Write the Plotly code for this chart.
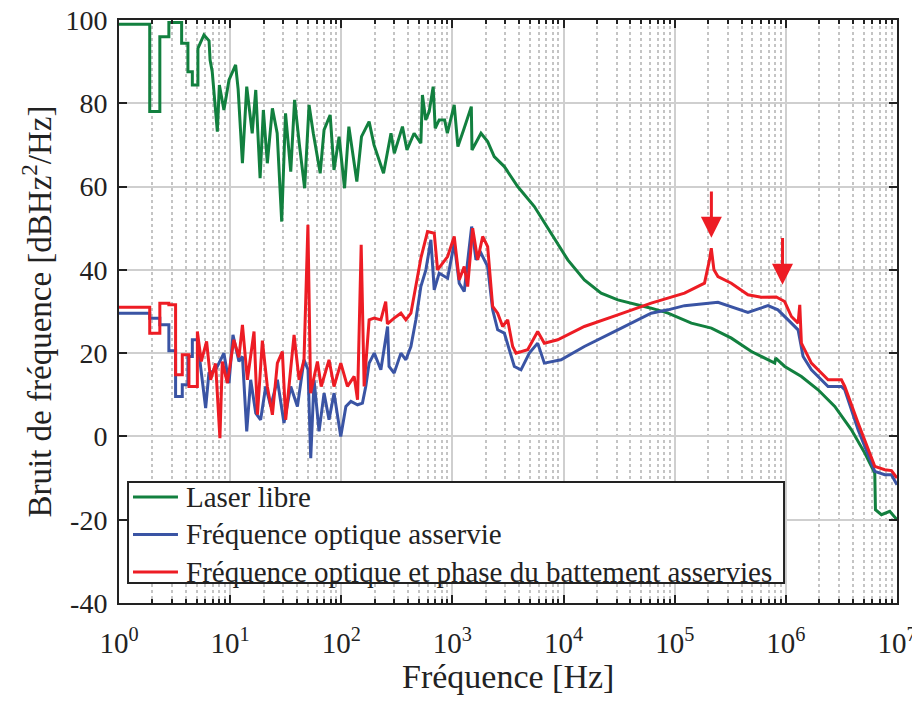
import plotly.graph_objects as go

# --- données (fréquence en Hz, bruit en dBHz²/Hz) ---
freq_libre = [1, 1.89, 1.89, 2.33, 2.33, 2.81, 2.81, 3.66, 3.66, 4.17, 4.17, 4.57, 4.57, 5.13, 5.13,
              5.81, 6.46, 6.6, 6.9, 7.67, 8.0, 8.79, 9.77, 11.2, 11.8, 12.9, 14.1, 15.8, 17.0, 18.6,
              19.9, 21.6, 24.0, 26.5, 29.1, 31.5, 35.1, 38.0, 42, 46.8, 51.3, 56, 64.6, 70, 79.4,
              86, 95.5, 107, 117, 138, 152, 178, 197, 240, 280, 300, 355, 390, 452, 520, 537, 575,
              618, 671, 700, 760, 851, 900, 1038, 1120, 1260, 1479, 1500, 1807, 2075, 2377, 2931,
              3864, 5458, 7709, 10914, 15382, 21777, 30761, 43451, 61376, 87096, 122462, 141254,
              213796, 323594, 489779, 794328, 810000, 977237, 1380384, 1949845, 2754229, 3890451,
              5128614, 6309573, 6400000, 7244360, 8609938, 1e7]
bruit_libre = [99, 99, 78, 78, 96, 96, 99.4, 99.4, 94.4, 94.4, 87.6, 87.6, 84.4, 84.4, 93.2,
               96.4, 95, 90.4, 87.6, 73.2, 84.4, 78.4, 85.6, 89.2, 83.4, 65.6, 84, 72.8, 83.2, 62,
               78.4, 65.6, 78.8, 72.8, 51.6, 77.6, 63.6, 80.8, 70, 59.6, 79.6, 72.8, 63.2, 73.6, 77.2,
               64, 72, 59.6, 74.4, 61.2, 72, 75.6, 70, 63.2, 72.8, 68, 74.4, 68.8, 72.8, 70.4, 82, 76,
               78, 84, 74, 76, 76, 72.8, 79.6, 69.6, 73.6, 79.2, 68.8, 72.8, 70.8, 67.2, 64.8,
               60, 55.2, 48.8, 42.4, 37.6, 34.4, 32.8, 31.8, 30.8, 29.6, 28, 27.2,
               26, 23.6, 20.4, 17.6, 18.8, 16.8, 14.4, 11.2, 7.2, 1.6,
               -4, -8.8, -17.6, -18.8, -18, -20]

freq_asservie = [1, 1.89, 1.89, 2.33, 2.33, 2.81, 2.81, 3.23, 3.23, 3.71, 3.71, 4.17, 4.17, 4.57,
                 4.57, 5.07, 5.42, 6.02, 6.44, 7.4, 8.79, 9.77, 10.6, 12, 12.9, 14.1, 15.3, 17,
                 18.8, 20.9, 23.2, 26.6, 30.5, 35.1, 40.3, 46.2, 50.2, 53.1, 56.9, 63.1, 70, 77.6,
                 86.1, 98.9, 110, 122, 140, 155, 166, 178, 198, 227, 261, 269, 299, 344, 381, 423,
                 469, 520, 577, 640, 686, 760, 905, 1038, 1151, 1277, 1489, 1629, 1807, 2075, 2301,
                 2553, 2931, 3606, 4140, 4920, 5848, 6714, 9490, 15382, 30761, 61376, 86896,
                 122462, 244900, 322800, 456000, 690200, 849000, 1047000, 1288000, 1429000,
                 1698000, 2399000, 3162000, 3388000, 4467000, 6310000, 7762000, 8913000, 1e7]
bruit_asservie = [29.6, 29.6, 28.4, 28.4, 26.8, 26.8, 20.6, 20.6, 9.6, 9.6, 12.4, 12.4, 19.2, 19.2,
                  23.2, 23.2, 16.8, 6.8, 15.2, 16, 20, 12.8, 24.4, 18, 19.2, 1.2, 13.6, 5.6,
                  4, 12, 7.2, 13.6, 3.2, 12, 7.2, 18.4, 16, -5.2, 13.6, 1.2, 10.4, 4,
                  10.4, 0, 7.2, 8.4, 7.6, 8, 12, 17.6, 20, 16, 26.4, 16.8, 15.2, 20, 18.4, 21.6,
                  28, 36, 40, 47.2, 35.2, 39.2, 38, 46.4, 36.8, 34.8, 50.4, 42.4, 44, 40.8, 30.4,
                  25.6, 24.8, 16.8, 16, 20, 22.4, 17.6, 18.4, 21.6, 25.6, 29.6, 30.4,
                  31.4, 32.2, 31.2, 29.8, 31.4, 30.4, 28, 25.6, 19.2,
                  16, 12, 12, 11.2, 1.6, -8.4, -9.2, -9.2, -11.6]

freq_phase = [1, 1.89, 1.89, 2.33, 2.33, 2.81, 2.81, 3.23, 3.23, 3.71, 3.71, 4.26, 4.26, 5.07,
              5.07, 5.5, 6.14, 6.67, 7.4, 8.09, 8.5, 9.44, 10.8, 12, 12.9, 14.3, 16.4, 17.6, 19.5,
              21.6, 24, 26.6, 29.5, 31.6, 37.6, 41.7, 46.2, 50.1, 53, 61, 66, 77.6, 86, 99, 113.6,
              130.6, 140, 151, 160.6, 178, 198, 227, 251, 260, 299, 344, 381, 423, 520, 597, 686,
              735, 905, 1038, 1151, 1277, 1371, 1521, 1687, 1871, 2075, 2301, 2553, 2831, 3141,
              3483, 3733, 4753, 5848, 6714, 8855, 15382, 30761, 61376, 122462, 185400, 205600,
              213300, 225400, 244900, 322800, 456000, 601000, 820000, 975000, 1122000, 1288000,
              1334000, 1380000, 1698000, 2399000, 3162000, 3388000, 4467000, 6310000, 7762000,
              8913000, 1e7]
bruit_phase = [31, 31, 24.8, 24.8, 32, 32, 31.6, 31.6, 14.8, 14.8, 19.6, 19.6, 12, 12,
               25.2, 18, 22.8, 13.6, 17.5, -0.4, 18, 12.8, 23.2, 19, 26.8, 13.6, 25.2, 5.2, 23,
               12, 5.2, 17.6, 20.4, 4, 24.4, 13.6, 18.4, 50.8, 10.4, 18, 12, 18.4, 12, 17.6, 12,
               14.4, 8.8, 46, 12, 28, 28.4, 28, 32.4, 27, 28.4, 29.6, 28, 29.6, 42.8, 49.2, 48.8,
               40, 43.2, 48, 37.6, 40.8, 36, 50, 42.4, 48, 45.6, 31.2, 29.6, 26.4, 28,
               21.6, 20, 20.8, 25.2, 22.4, 23.2, 26.4, 29.2, 32, 34.4, 36.8, 42.4,
               45.2, 40, 38.4, 36.8, 34, 33.4, 33.5, 32.4, 28.8, 27.2,
               31.6, 22.4, 17.6, 13.6, 13.6, 12, 3.2, -7.2, -8,
               -8.2, -10]

# flèches (fréquence en log10, bout, queue)
fleche_logf = [5.33, 5.97]
fleche_bout = [47.7, 36.4]
fleche_queue = [59.2, 48.0]

noms = ["Laser libre", "Fréquence optique asservie",
        "Fréquence optique et phase du battement asservies"]
couleurs = ["#12803f", "#3a54a4", "#ed1c24"]

police = "Liberation Serif, Times New Roman, serif"
encre = "#222222"

fig = go.Figure()
for f, b, nom, c in zip([freq_libre, freq_asservie, freq_phase],
                        [bruit_libre, bruit_asservie, bruit_phase], noms, couleurs):
    fig.add_trace(go.Scatter(x=f, y=b, mode="lines", name=nom,
                             line=dict(color=c, width=3), showlegend=False))

for lf, bout, queue in zip(fleche_logf, fleche_bout, fleche_queue):
    fig.add_annotation(x=lf, y=bout, ax=lf, ay=queue, xref="x", yref="y",
                       axref="x", ayref="y", text="", showarrow=True,
                       arrowhead=2, arrowsize=1.4, arrowwidth=3, arrowcolor="#ed1c24")

# légende dessinée à la main (cadre serré comme dans MATLAB)
fig.add_shape(type="rect", xref="paper", yref="paper", x0=0.0116, x1=0.8548,
              y0=0.0343, y1=0.2075, fillcolor="white", line=dict(color=encre, width=2),
              layer="above")
for i, (nom, c) in enumerate(zip(noms, couleurs)):
    y_ligne = 0.1818 - i * 0.0643
    fig.add_shape(type="line", xref="paper", yref="paper", x0=0.018, x1=0.0758,
                  y0=y_ligne, y1=y_ligne, line=dict(color=c, width=3), layer="above")
    fig.add_annotation(text=nom, xref="paper", yref="paper", x=0.0835, y=y_ligne,
                       xanchor="left", yanchor="middle", showarrow=False,
                       font=dict(family=police, size=29, color=encre))

# titre de l'axe x en annotation pour le placer librement
fig.add_annotation(text="Fréquence [Hz]", xref="paper", yref="paper", x=0.5, y=-0.126,
                   xanchor="center", yanchor="middle", showarrow=False,
                   font=dict(family=police, size=34, color=encre))

majeurs = [10 ** n for n in range(8)]
mineurs = [k * 10 ** n for n in range(7) for k in range(2, 10)]

fig.update_xaxes(
    type="log", range=[0, 7], automargin=False,
    tickmode="array", tickvals=majeurs,
    ticktext=[f"10<sup>{n}</sup>" for n in range(8)],
    ticks="inside", ticklen=8, tickwidth=1.5, tickcolor=encre,
    ticklabelstandoff=13, ticklabeloverflow="allow",
    showline=True, linecolor=encre, linewidth=2, mirror="ticks",
    showgrid=True, gridcolor="#cfcfcf", gridwidth=2,
    minor=dict(tickmode="array", tickvals=mineurs, ticks="inside", ticklen=4,
               tickcolor=encre, showgrid=True, gridcolor="#c4c4c4", griddash="dot",
               gridwidth=1.5),
    tickfont=dict(family=police, size=29, color=encre),
    zeroline=False,
)
fig.update_yaxes(
    range=[-40, 100], automargin=False,
    tickmode="array", tickvals=list(range(-40, 101, 20)),
    ticktext=[str(v) for v in range(-40, 101, 20)],
    ticks="inside", ticklen=8, tickwidth=1.5, tickcolor=encre,
    ticklabelstandoff=4, ticklabeloverflow="allow",
    showline=True, linecolor=encre, linewidth=2, mirror="ticks",
    showgrid=True, gridcolor="#cfcfcf", gridwidth=2,
    tickfont=dict(family=police, size=28, color=encre),
    title=dict(text="Bruit de fréquence [dBHz<sup>2</sup>/Hz]",
               font=dict(family=police, size=33, color=encre), standoff=4),
    zeroline=False,
)

# la page ajoute 8 px de marge au corps : figure réduite d'autant
fig.update_layout(
    width=912, height=694,
    margin=dict(l=111, r=23, t=12, b=99),
    paper_bgcolor="white", plot_bgcolor="white",
    font=dict(family=police, color=encre),
    showlegend=False,
)

fig.write_html("out.html")
